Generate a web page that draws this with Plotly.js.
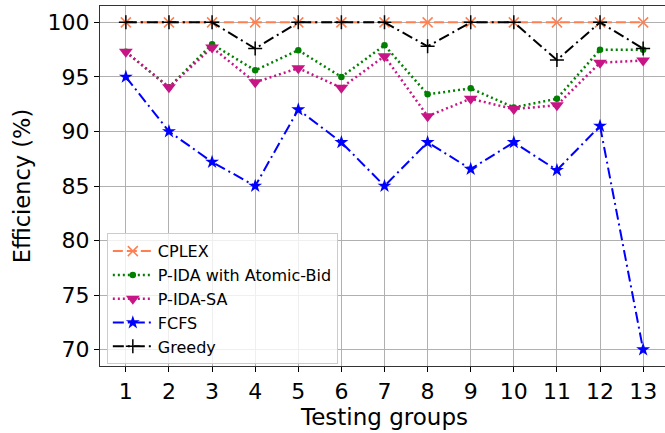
<!DOCTYPE html>
<html><head><meta charset="utf-8">
<script src="https://cdn.plot.ly/plotly-3.0.1.min.js"></script>
<style>html,body{margin:0;padding:0;overflow:hidden;background:#fff}#chart{width:669px;height:433px}</style>
</head><body><div id="chart"></div>
<script>
const groups = [1,2,3,4,5,6,7,8,9,10,11,12,13];
const tickLabels = ["1","2","3","4","5","6","7","8","9","10","11","12","13"];
const cplex = [100,100,100,100,100,100,100,100,100,100,100,100,100];
const pidaAtomic = [97.3,94.05,98.0,95.6,97.45,95.0,97.9,93.4,93.95,92.2,93.0,97.5,97.5];
const pidaSA = [97.3,94.05,97.7,94.5,95.8,94.0,96.9,91.4,93.0,92.05,92.4,96.3,96.5];
const fcfs = [95.0,90.0,87.2,85.0,92.0,89.0,85.0,89.0,86.55,89.0,86.45,90.5,70.0];
const greedy = [100,100,100,97.6,100,100,100,97.8,100,100,96.55,100,97.6];
const names = ["CPLEX","P-IDA with Atomic-Bid","P-IDA-SA","FCFS","Greedy"];
const yTicks = [70,75,80,85,90,95,100];

const traces = [
  {x:groups,y:cplex,name:names[0],mode:"lines+markers",line:{color:"#FF7F50",width:2,dash:"10px,4px"},marker:{symbol:"x-thin-open",size:10,line:{color:"#FF7F50",width:1.5},color:"#FF7F50"}},
  {x:groups,y:pidaAtomic,name:names[1],mode:"lines+markers",line:{color:"#008000",width:2.5,dash:"2px,3px"},marker:{symbol:"circle",size:6.5,color:"#008000"}},
  {x:groups,y:pidaSA,name:names[2],mode:"lines+markers",line:{color:"#C71585",width:2.5,dash:"2px,3px"},marker:{symbol:"triangle-down",size:12,color:"#C71585"}},
  {x:groups,y:fcfs,name:names[3],mode:"lines+markers",line:{color:"#0000FF",width:2,dash:"11px,4px,2px,4px"},marker:{symbol:"star",size:10.5,color:"#0000FF"}},
  {x:groups,y:greedy,name:names[4],mode:"lines+markers",line:{color:"#000000",width:2,dash:"11px,4px,2px,4px"},marker:{symbol:"cross-thin-open",size:10,line:{color:"#000000",width:1.5},color:"#000000"}}
];
const font = "DejaVu Sans, sans-serif";
const layout = {
  width:669,height:433,
  margin:{l:100,r:0,t:6,b:67},
  paper_bgcolor:"#fff",plot_bgcolor:"#fff",
  font:{family:font,color:"#000"},
  showlegend:true,
  legend:{x:0.012,y:0.005,xanchor:"left",yanchor:"bottom",bgcolor:"rgba(255,255,255,0.8)",bordercolor:"#cccccc",borderwidth:1,itemwidth:40,font:{family:font,size:16,color:"#000"},tracegroupgap:0},
  xaxis:{range:[0.4,13.6],tickvals:groups,ticktext:tickLabels,showgrid:true,gridcolor:"#b0b0b0",gridwidth:1,
    ticks:"outside",ticklen:5,tickcolor:"#000",showline:true,linecolor:"#333",linewidth:1.2,mirror:true,zeroline:false,
    tickfont:{family:font,size:22},title:{text:"Testing groups",font:{family:font,size:23},standoff:6}},
  yaxis:{range:[68.5,101.5],tickvals:yTicks,showgrid:true,gridcolor:"#b0b0b0",gridwidth:1,
    ticks:"outside",ticklen:5,tickcolor:"#000",showline:true,linecolor:"#333",linewidth:1.2,mirror:true,zeroline:false,
    tickfont:{family:font,size:22},title:{text:"Efficiency (%)",font:{family:font,size:22.5},standoff:10}}
};
Plotly.newPlot("chart",traces,layout,{displayModeBar:false,staticPlot:true});
</script></body></html>
